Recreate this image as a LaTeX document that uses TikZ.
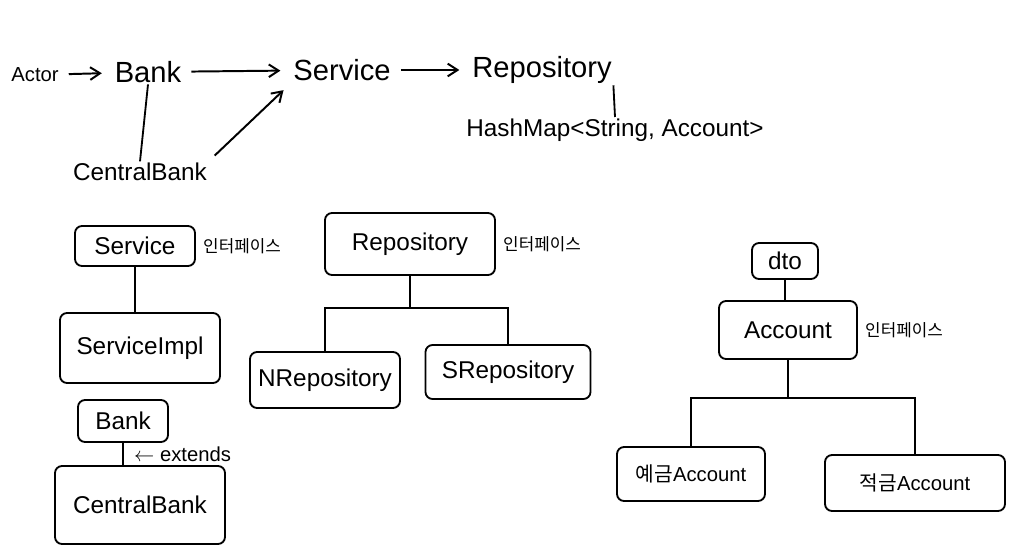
\documentclass[tikz,border=0pt]{standalone}
\usepackage{fontspec}
\setmainfont{Liberation Sans}
\newfontfamily\krfont{Noto Sans CJK KR}
\usetikzlibrary{positioning,arrows.meta}
\newdimen\px
\px=0.025cm

\begin{document}
\begin{tikzpicture}[x=0.025cm, y=-0.025cm,
          word/.style={font=\huge, inner sep=1pt},
          box/.style={
            draw, line width=1.3pt, rounded corners=5pt,
            align=center, font=\LARGE, inner sep=2pt},
          note/.style={font=\krfont\large, inner sep=1pt},
          arr/.style={-{Straight Barb[length=7pt,width=9pt]}, line width=1.4pt,
            shorten <=6pt, shorten >=8pt},
          link/.style={line width=1.3pt}
        ]
        \useasboundingbox (0,0) rectangle (1023,553);

        % top row
        \node[word, font=\Large] (actor) at (35,75) {Actor};
        \node[word] (bank) at (148,72) {Bank};
        \node[word] (service) at (342,70) {Service};
        \node[word] (repo) at (542,70) {Repository};
        \node[word, font=\LARGE] (hashmap) at (615,130) {HashMap<String, Account>};
        \node[word, font=\LARGE] (central) at (140,172) {CentralBank};
        \draw[arr] (actor) -- (bank);
        \draw[arr] (bank) -- (service);
        \draw[arr] (service) -- (repo);
        \draw[arr] (central.north east) -- (service.south west);
        \draw[link] (bank.south) -- (central.north);
        \draw[link] (repo.south east) -- (hashmap.north);

        % service / bank
        \node[box, minimum width=120\px, minimum height=40\px] (iservice) at (135,246) {Service};
        \node[note, right=4pt of iservice.east, anchor=west] (inote1) {인터페이스};
        \node[box, minimum width=160\px, minimum height=70\px] (impl) at (140,348) {ServiceImpl};
        \node[box, minimum width=90\px, minimum height=42\px] (pbank) at (123,421) {Bank};
        \node[box, minimum width=170\px, minimum height=78\px] (cbank) at (140,505) {CentralBank};
        \draw[link] (iservice.south) -- (iservice.south |- impl.north);
        \draw[link] (pbank.south) -- node[right=4pt, font=\Large] (ext) {$\leftarrow$ extends} (pbank.south |- cbank.north);

        % repository
        \node[box, minimum width=170\px, minimum height=62\px] (irepo) at (410,244) {Repository};
        \node[note, right=4pt of irepo.east, anchor=west] (inote2) {인터페이스};
        \node[box, minimum width=150\px, minimum height=56\px] (nrepo) at (325,380) {NRepository};
        \node[box, minimum width=165\px, minimum height=54\px] (srepo) at (508,372) {SRepository};
        \draw[link] (irepo.south) -- ++(0,32) -| (nrepo.north);
        \draw[link] (irepo.south) -- ++(0,32) -| (srepo.north);

        % dto / account
        \node[box, minimum width=66\px, minimum height=36\px] (dto) at (785,261) {dto};
        \node[box, minimum width=138\px, minimum height=58\px] (account) at (788,330) {Account};
        \node[note, right=4pt of account.east, anchor=west] (inote3) {인터페이스};
        \node[box, minimum width=148\px, minimum height=54\px, font=\Large] (deposit) at (691,474) {{\krfont 예금}Account};
        \node[box, minimum width=180\px, minimum height=56\px, font=\Large] (savings) at (915,483) {{\krfont 적금}Account};
        \draw[link] (dto.south) -- (dto.south |- account.north);
        \draw[link] (account.south) -- ++(0,38) -| (deposit.north);
        \draw[link] (account.south) -- ++(0,38) -| (savings.north);
      \end{tikzpicture}
\end{document}
